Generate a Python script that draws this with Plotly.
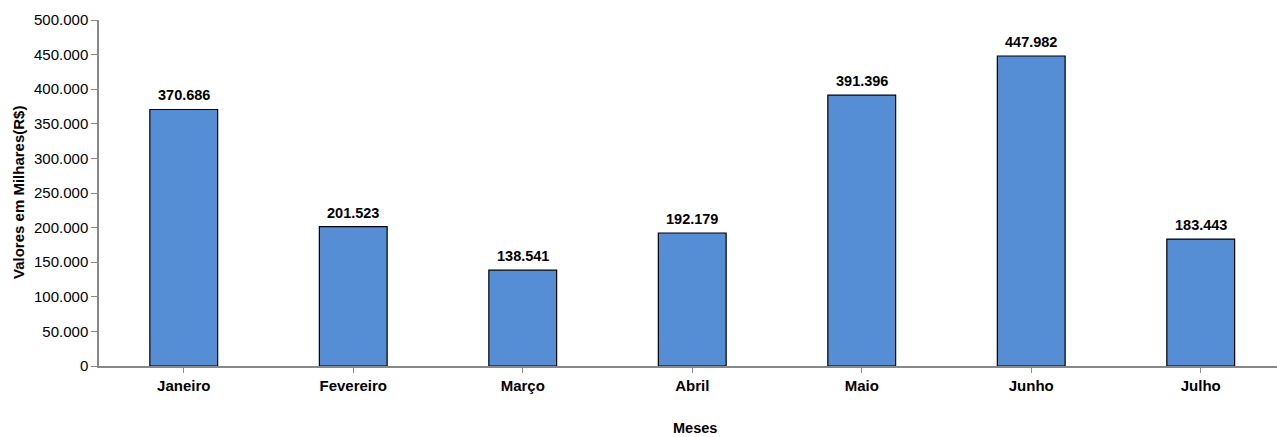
import plotly.graph_objects as go

meses = ["Janeiro", "Fevereiro", "Março", "Abril", "Maio", "Junho", "Julho"]
valores = [370686, 201523, 138541, 192179, 391396, 447982, 183443]
y_ticks = [0, 50000, 100000, 150000, 200000, 250000, 300000, 350000, 400000, 450000, 500000]

W, H = 1277, 437
L, R, T, B = 99, 0, 20, 71
pw = W - L - R
ph = H - T - B
FONT = "Liberation Sans, Arial"

fig = go.Figure()
fig.add_trace(go.Bar(
    x=list(range(len(meses))), y=valores,
    width=0.4,
    marker=dict(color="#558ED5", line=dict(color="#000000", width=1.2)),
    hoverinfo="skip",
))

for i, v in enumerate(valores):
    fig.add_annotation(
        x=i, y=v, xref="x", yref="y", yanchor="bottom", yshift=4,
        text="<b>" + f"{v:,}".replace(",", ".") + "</b>", showarrow=False,
        font=dict(family=FONT, size=14.5, color="#000000"),
    )

fig.add_annotation(
    x=(695 - L) / pw, y=-(428 - (H - B)) / ph, xref="paper", yref="paper",
    xanchor="center", yanchor="middle",
    text="<b>Meses</b>", showarrow=False,
    font=dict(family=FONT, size=14.5, color="#000000"),
)
fig.add_annotation(
    x=-(L - 18) / pw, y=0.5, xref="paper", yref="paper", textangle=-90,
    xanchor="center", yanchor="middle",
    text="<b>Valores em Milhares(R$)</b>", showarrow=False,
    font=dict(family=FONT, size=15, color="#000000"),
)

fig.update_layout(
    width=W, height=H,
    margin=dict(l=L, r=R, t=T, b=B, pad=0),
    paper_bgcolor="white", plot_bgcolor="white",
    separators=",.",
    showlegend=False,
    font=dict(family=FONT, size=15, color="#000000"),
    xaxis=dict(
        tickmode="array", tickvals=list(range(len(meses))),
        ticktext=["<b>" + m + "</b>" for m in meses],
        range=[-0.5, 6.45], tickson="boundaries", ticks="outside", ticklen=5,
        tickcolor="#888888", showline=True, linecolor="#888888", linewidth=1.5,
        showgrid=False, zeroline=False, fixedrange=True,
        tickfont=dict(family=FONT, size=15, color="#000000"),
    ),
    yaxis=dict(
        range=[0, 500000], tickmode="array", tickvals=y_ticks,
        tickformat=",.0f", ticks="outside", ticklen=6, tickcolor="#888888",
        showline=True, linecolor="#888888", linewidth=1.5,
        showgrid=False, zeroline=False,
        tickfont=dict(family=FONT, size=15, color="#000000"),
    ),
)

fig.write_html("out.html")
